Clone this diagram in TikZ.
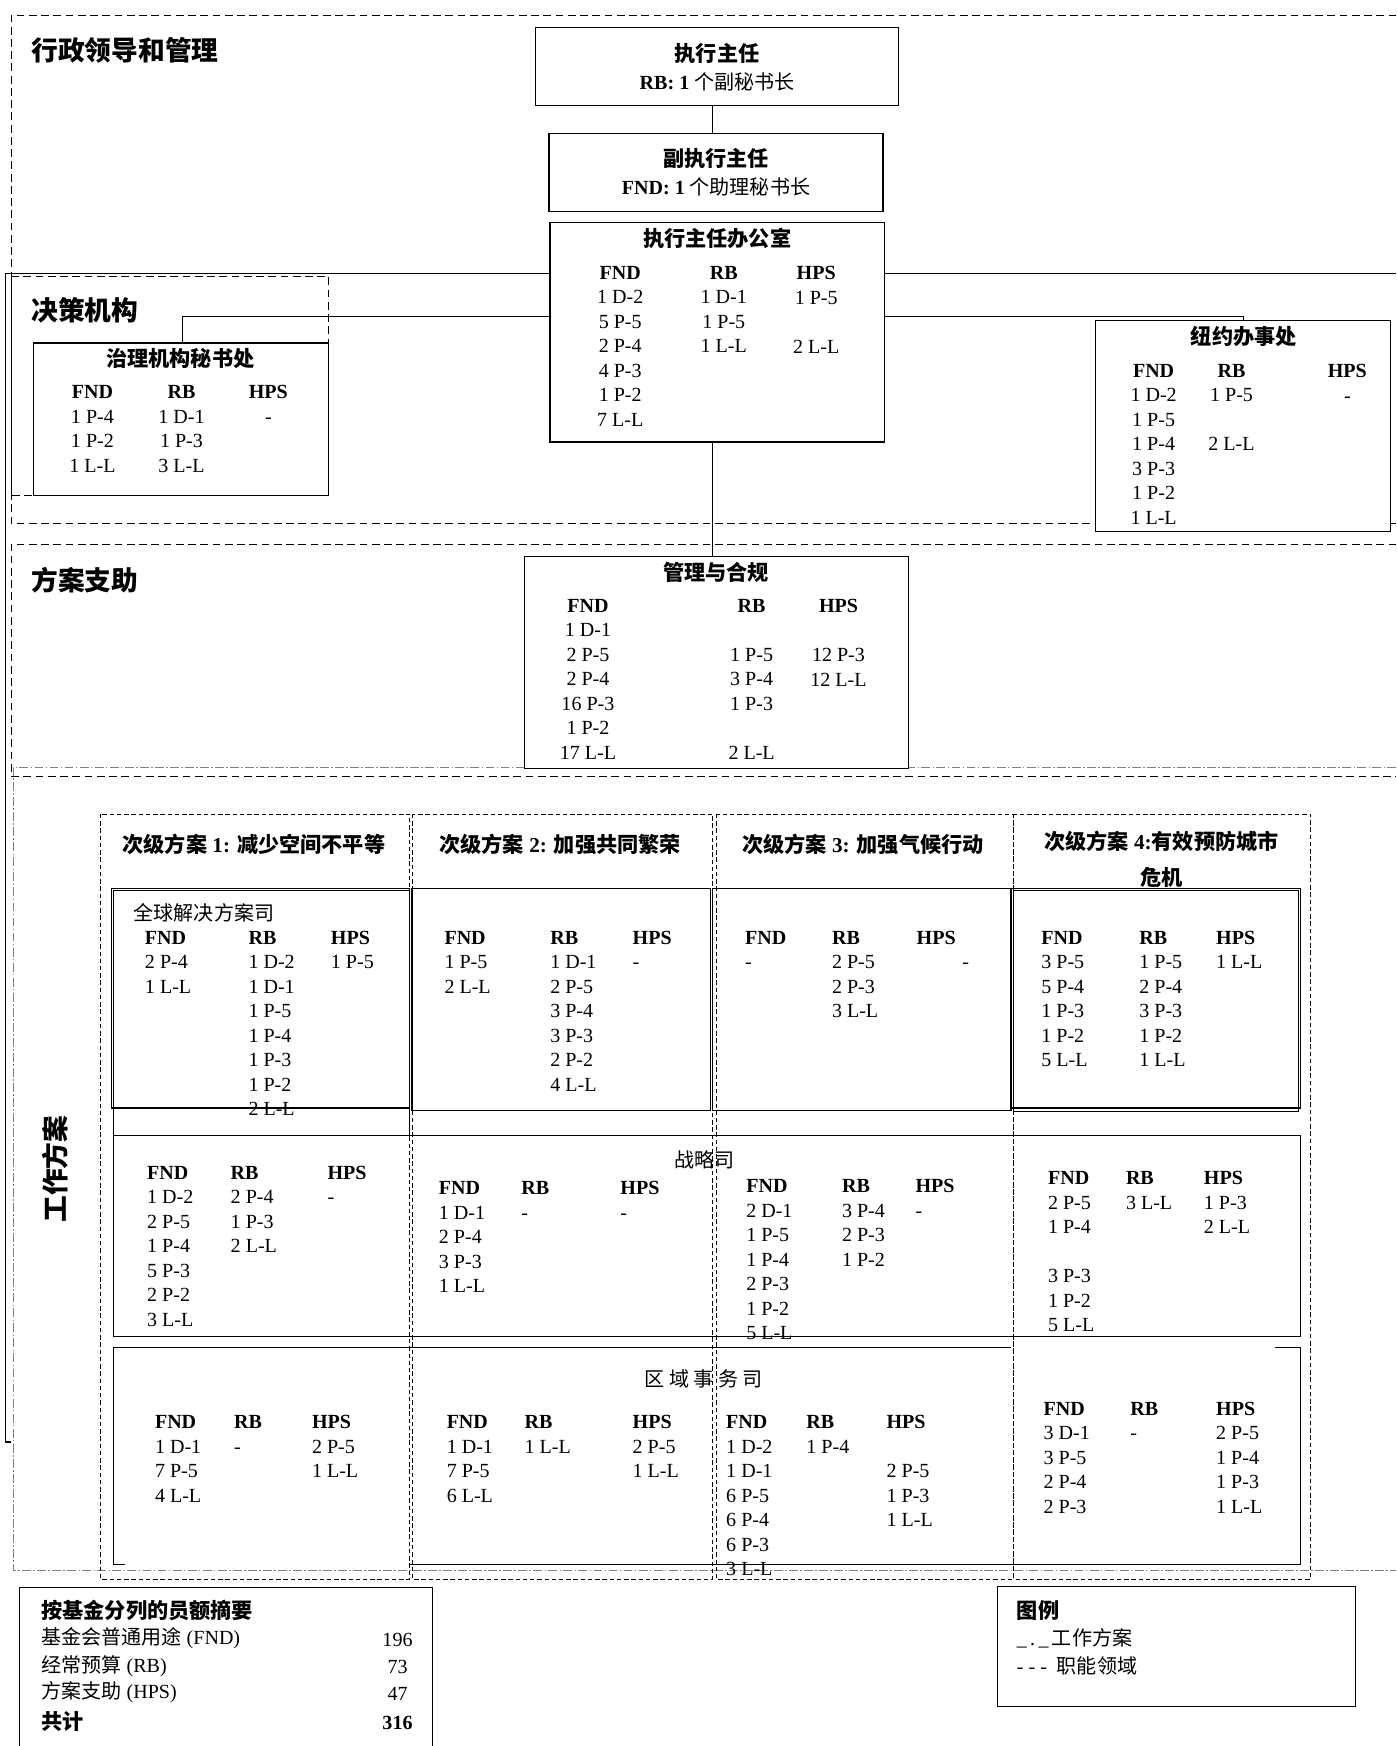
\documentclass[tikz,border=0pt]{standalone}
\usepackage{fontspec}
\setmainfont{Liberation Serif}
\newfontfamily\cjk{Noto Sans CJK SC}
\usetikzlibrary{positioning}
\newcommand\zh[1]{{\cjk #1}}
\newcommand\zhb[1]{{\cjk\bfseries #1}}
\newcommand\postsize{\fontsize{18}{22}\selectfont}
\newcommand\titlesize{\fontsize{19}{25}\selectfont}
\newcommand\sectsize{\fontsize{24}{28}\selectfont}

\tikzset{
  orgbox/.style={draw, line width=1.1pt, fill=white, inner sep=0pt, align=center, font=\titlesize},
  boxtitle/.style={inner sep=0pt, font=\titlesize},
  section/.style={anchor=west, inner sep=0pt, font=\sectsize},
  posts/.style={anchor=north west, align=left, inner sep=0pt, font=\postsize},
  cposts/.style={anchor=north, align=center, inner sep=0pt, font=\postsize},
  area/.style={line width=0.9pt, dash pattern=on 7pt off 4pt},
  subarea/.style={line width=0.8pt, dash pattern=on 4pt off 2.5pt},
  wparea/.style={line width=0.6pt, gray, dash pattern=on 8pt off 2pt on 1.5pt off 2pt},
  rowbox/.style={line width=1.1pt},
  plain/.style={inner sep=0pt, font=\postsize}
}

\begin{document}
\begin{tikzpicture}[x=1pt,y=-1pt]
\useasboundingbox (0,0) rectangle (1254,1568);

% areas
\draw[area] (1254,14) -- (10,14) -- (10,470) -- (1254,470);
\draw[area] (10,248) rectangle (295,445);
\draw[area] (1254,489) -- (10,489) -- (10,697) -- (1254,697);
\draw[wparea] (1254,689) -- (12,689) -- (12,1410) -- (1254,1410);
\node[section] (t_admin) at (28,45) {\zhb{行政领导和管理}};
\node[section] (t_policy) at (28,279) {\zhb{决策机构}};
\node[section] (t_support) at (28,521) {\zhb{方案支助}};
\node[inner sep=0pt, font=\sectsize, rotate=90] (t_wp) at (50,1050) {\zhb{工作方案}};

% top of the chart
\node[orgbox, minimum width=326, minimum height=70] (exec) at (644,60)
  {\zhb{执行主任}\\\fontsize{18}{25}\selectfont\textbf{RB: 1} \zh{个副秘书长}};
\node[orgbox, minimum width=300, minimum height=70] (deputy) at (643,155)
  {\zhb{副执行主任}\\\fontsize{18}{25}\selectfont\textbf{FND: 1} \zh{个助理秘书长}};
\node[orgbox, minimum width=300, minimum height=197] (office) at (644,298.5) {};
\node[boxtitle] (office_t) at (644,214) {\zhb{执行主任办公室}};
\node[cposts] (office_fnd) at (557,239) {\textbf{FND}\\1 D-2\\5 P-5\\2 P-4\\4 P-3\\1 P-2\\7 L-L};
\node[cposts] (office_rb) at (650,239) {\textbf{RB}\\1 D-1\\1 P-5\\1 L-L};
\node[cposts] (office_hps) at (733,239) {\textbf{HPS}\\1 P-5\\~\\2 L-L};

\node[orgbox, minimum width=265, minimum height=137] (gov) at (162.5,376.5) {};
\node[boxtitle] (gov_t) at (162,322) {\zhb{治理机构秘书处}};
\node[cposts] (gov_fnd) at (83,346) {\textbf{FND}\\1 P-4\\1 P-2\\1 L-L};
\node[cposts] (gov_rb) at (163,346) {\textbf{RB}\\1 D-1\\1 P-3\\3 L-L};
\node[cposts] (gov_hps) at (241,346) {\textbf{HPS}\\-};

\node[orgbox, minimum width=265, minimum height=189] (ny) at (1116.5,382.5) {};
\node[boxtitle] (ny_t) at (1117,302) {\zhb{纽约办事处}};
\node[cposts] (ny_fnd) at (1036,327) {\textbf{FND}\\1 D-2\\1 P-5\\1 P-4\\3 P-3\\1 P-2\\1 L-L};
\node[cposts] (ny_rb) at (1106,327) {\textbf{RB}\\1 P-5\\~\\2 L-L};
\node[cposts] (ny_hps) at (1210,327) {\textbf{HPS}\\-};

\node[orgbox, minimum width=345, minimum height=190] (mgmt) at (643.5,595) {};
\node[boxtitle] (mgmt_t) at (643,514) {\zhb{管理与合规}};
\node[cposts] (mgmt_fnd) at (528,538) {\textbf{FND}\\1 D-1\\2 P-5\\2 P-4\\16 P-3\\1 P-2\\17 L-L};
\node[cposts] (mgmt_rb) at (675,538) {\textbf{RB}\\~\\1 P-5\\3 P-4\\1 P-3\\~\\2 L-L};
\node[cposts] (mgmt_hps) at (753,538) {\textbf{HPS}\\~\\12 P-3\\12 L-L};

% connectors
\coordinate (spine) at (640,0);
\coordinate (leftbus) at (5,246);
\coordinate (leftend) at (10,1295);
\coordinate (rightbus) at (1254,246);
\coordinate (govtap) at (164,284);
\coordinate (nytap) at (1117,284);
\draw[line width=1pt] (exec.south -| spine) -- (deputy.north -| spine);
\draw[line width=1pt] (office.west |- leftbus) -- (leftbus) -- (leftbus |- leftend) -- (leftend);
\draw[line width=1pt] (office.east |- rightbus) -- (rightbus);
\draw[line width=1pt] (office.west |- govtap) -- (govtap) -- (govtap |- gov.north);
\draw[line width=1pt] (office.east |- nytap) -- (nytap) -- (nytap |- ny.north);
\draw[line width=1pt] (office.south -| spine) -- (mgmt.north -| spine);

% work programme: subprogramme columns
\draw[subarea] (90,731) rectangle (368,1418);
\draw[subarea] (370,731) rectangle (640,1418);
\draw[subarea] (643,731) rectangle (910,1418);
\draw[subarea] (910,731) rectangle (1177,1418);
\node[boxtitle] (sp1) at (228,758) {\zhb{次级方案} \textbf{1:} \zhb{减少空间不平等}};
\node[boxtitle] (sp2) at (503,758) {\zhb{次级方案} \textbf{2:} \zhb{加强共同繁荣}};
\node[boxtitle] (sp3) at (775,758) {\zhb{次级方案} \textbf{3:} \zhb{加强气候行动}};
\node[boxtitle, align=center, anchor=north, font=\fontsize{19}{32}\selectfont] (sp4) at (1043,746)
  {\zhb{次级方案} \textbf{4:}\zhb{有效预防城市}\\\zhb{危机}};

% divisions
\draw[rowbox] (100,798) rectangle (368,995);
\draw[rowbox] (102,800) rectangle (368,1020);
\draw[rowbox] (370,798) rectangle (638,997);
\draw[rowbox] (640,798) rectangle (908,997);
\draw[rowbox] (908,798) rectangle (1168,995);
\draw[rowbox] (910,800) rectangle (1166,998);
\draw[rowbox] (102,1020) rectangle (1168,1200);
\draw[rowbox] (908,1210) -- (102,1210) -- (102,1405) -- (112,1405);
\draw[rowbox] (368,1405) -- (1168,1405) -- (1168,1210) -- (1145,1210);
\node[plain, anchor=west] (gsd) at (120,820) {\zh{全球解决方案司}};
\node[plain] (strat) at (633,1042) {\zh{战略司}};
\node[plain] (regional) at (632,1238) {\zh{区 域 事 务 司}};

% posts, row 1
\foreach \px/\py/\txt [count=\i] in {
  130/836/{\textbf{FND}\\2 P-4\\1 L-L},
  223/836/{\textbf{RB}\\1 D-2\\1 D-1\\1 P-5\\1 P-4\\1 P-3\\1 P-2\\2 L-L},
  297/836/{\textbf{HPS}\\1 P-5},
  399/836/{\textbf{FND}\\1 P-5\\2 L-L},
  494/836/{\textbf{RB}\\1 D-1\\2 P-5\\3 P-4\\3 P-3\\2 P-2\\4 L-L},
  568/836/{\textbf{HPS}\\-},
  669/836/{\textbf{FND}\\-},
  747/836/{\textbf{RB}\\2 P-5\\2 P-3\\3 L-L},
  823/836/{\textbf{HPS}\\\hspace*{41pt}-},
  935/836/{\textbf{FND}\\3 P-5\\5 P-4\\1 P-3\\1 P-2\\5 L-L},
  1023/836/{\textbf{RB}\\1 P-5\\2 P-4\\3 P-3\\1 P-2\\1 L-L},
  1092/836/{\textbf{HPS}\\1 L-L}}
  \node[posts] (gsd\i) at (\px,\py) {\txt};

% posts, row 2
\foreach \px/\py/\txt [count=\i] in {
  132/1047/{\textbf{FND}\\1 D-2\\2 P-5\\1 P-4\\5 P-3\\2 P-2\\3 L-L},
  207/1047/{\textbf{RB}\\2 P-4\\1 P-3\\2 L-L},
  294/1047/{\textbf{HPS}\\-},
  394/1061/{\textbf{FND}\\1 D-1\\2 P-4\\3 P-3\\1 L-L},
  468/1061/{\textbf{RB}\\-},
  557/1061/{\textbf{HPS}\\-},
  670/1059/{\textbf{FND}\\2 D-1\\1 P-5\\1 P-4\\2 P-3\\1 P-2\\5 L-L},
  756/1059/{\textbf{RB}\\3 P-4\\2 P-3\\1 P-2},
  822/1059/{\textbf{HPS}\\-},
  941/1052/{\textbf{FND}\\2 P-5\\1 P-4\\~\\3 P-3\\1 P-2\\5 L-L},
  1011/1052/{\textbf{RB}\\3 L-L},
  1081/1052/{\textbf{HPS}\\1 P-3\\2 L-L}}
  \node[posts] (strat\i) at (\px,\py) {\txt};

% posts, row 3
\foreach \px/\py/\txt [count=\i] in {
  139/1271/{\textbf{FND}\\1 D-1\\7 P-5\\4 L-L},
  210/1271/{\textbf{RB}\\-},
  280/1271/{\textbf{HPS}\\2 P-5\\1 L-L},
  401/1271/{\textbf{FND}\\1 D-1\\7 P-5\\6 L-L},
  471/1271/{\textbf{RB}\\1 L-L},
  568/1271/{\textbf{HPS}\\2 P-5\\1 L-L},
  652/1271/{\textbf{FND}\\1 D-2\\1 D-1\\6 P-5\\6 P-4\\6 P-3\\3 L-L},
  724/1271/{\textbf{RB}\\1 P-4},
  796/1271/{\textbf{HPS}\\~\\2 P-5\\1 P-3\\1 L-L},
  937/1259/{\textbf{FND}\\3 D-1\\3 P-5\\2 P-4\\2 P-3},
  1015/1259/{\textbf{RB}\\-},
  1092/1259/{\textbf{HPS}\\2 P-5\\1 P-4\\1 P-3\\1 L-L}}
  \node[posts] (regional\i) at (\px,\py) {\txt};

% summary and legend
\node[orgbox, anchor=north west, minimum width=371, minimum height=160] (summary) at (17,1425) {};
\node[boxtitle, anchor=west] (sum_t) at (37,1446) {\zhb{按基金分列的员额摘要}};
\node[plain, anchor=west] (sum_fnd) at (37,1471) {\zh{基金会普通用途} (FND)};
\node[plain, anchor=west] (sum_rb) at (37,1496) {\zh{经常预算} (RB)};
\node[plain, anchor=west] (sum_hps) at (37,1520) {\zh{方案支助} (HPS)};
\node[boxtitle, anchor=west] (sum_all) at (37,1546) {\zhb{共计}};
\node[plain] (n_fnd) at (357,1473) {196};
\node[plain] (n_rb) at (357,1497) {73};
\node[plain] (n_hps) at (357,1521) {47};
\node[plain] (n_all) at (357,1547) {\textbf{316}};

\node[orgbox, anchor=north west, minimum width=322, minimum height=108] (legend) at (895,1424) {};
\node[boxtitle, anchor=west] (legend_t) at (913,1446) {\zhb{图例}};
\node[plain, anchor=west] (legend_wp) at (913,1471) {\_\,.\,\_\,\zh{工作方案}};
\node[plain, anchor=west] (legend_fa) at (913,1496) {-\ -\ -\ \ \zh{职能领域}};
\end{tikzpicture}
\end{document}
